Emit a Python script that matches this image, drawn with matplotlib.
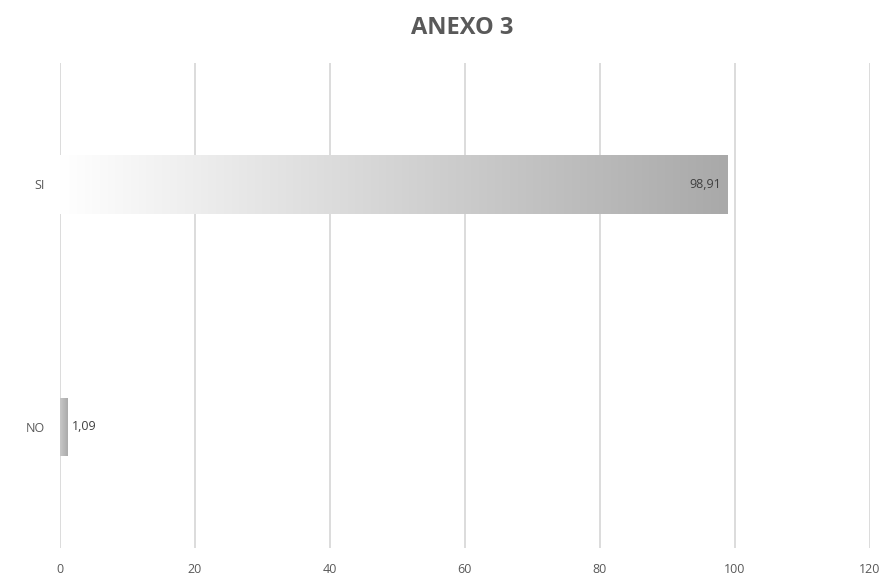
import matplotlib.pyplot as plt
import numpy as np
from matplotlib.colors import LinearSegmentedColormap

plt.rcParams['font.family'] = ['Open Sans', 'DejaVu Sans']

# datos
categorias = ['NO', 'SI']
valores = [1.09, 98.91]
etiquetas = ['1,09', '98,91']
ticks_x = [0, 20, 40, 60, 80, 100, 120]

fig = plt.figure(figsize=(8.84, 5.75), dpi=100)
ax = fig.add_axes([0.0679, 0.047, 0.916, 0.843])

ypos = np.arange(len(categorias))
alto = 0.24
bars = ax.barh(ypos, valores, height=alto, color='none', edgecolor='none', zorder=2)

# degradado blanco -> gris dentro de cada barra
cmap = LinearSegmentedColormap.from_list('grad', ['#ffffff', '#a9a9a9'])
grad = np.linspace(0, 1, 256).reshape(1, -1)
for b in bars:
    x0, y0 = b.get_x(), b.get_y()
    w, h = b.get_width(), b.get_height()
    if w < 5:
        cm = LinearSegmentedColormap.from_list('g2', ['#c8c8c8', '#aaaaaa'])
    else:
        cm = cmap
    im = ax.imshow(grad, cmap=cm, aspect='auto', extent=[x0, x0 + w, y0, y0 + h],
                   zorder=2, interpolation='bicubic')
    im.set_clip_path(b)

# etiquetas de datos
ax.text(valores[1] - 1.0, ypos[1], etiquetas[1], ha='right', va='center',
        fontsize=9, color='#404040', zorder=3)
ax.text(valores[0] + 0.6, ypos[0], etiquetas[0], ha='left', va='center',
        fontsize=9, color='#404040', zorder=3)

ax.set_xlim(0, 120)
ax.set_ylim(-0.5, 1.5)
ax.set_xticks(ticks_x)
ax.set_xticklabels([str(t) for t in ticks_x], fontsize=9, color='#595959')
ax.set_yticks(ypos)
ax.set_yticklabels(categorias, fontsize=9, color='#595959')
ax.tick_params(axis='both', length=0)
ax.tick_params(axis='x', pad=11)
ax.tick_params(axis='y', pad=11)

ax.grid(axis='x', color='#dcdcdc', linewidth=1.4, zorder=0)
ax.set_axisbelow(True)
for s in ax.spines.values():
    s.set_visible(False)

fig.text(0.523, 0.952, 'ANEXO 3', ha='center', va='center', fontsize=17,
         fontweight='bold', color='#595959')

fig.savefig('out.png', dpi=100)
